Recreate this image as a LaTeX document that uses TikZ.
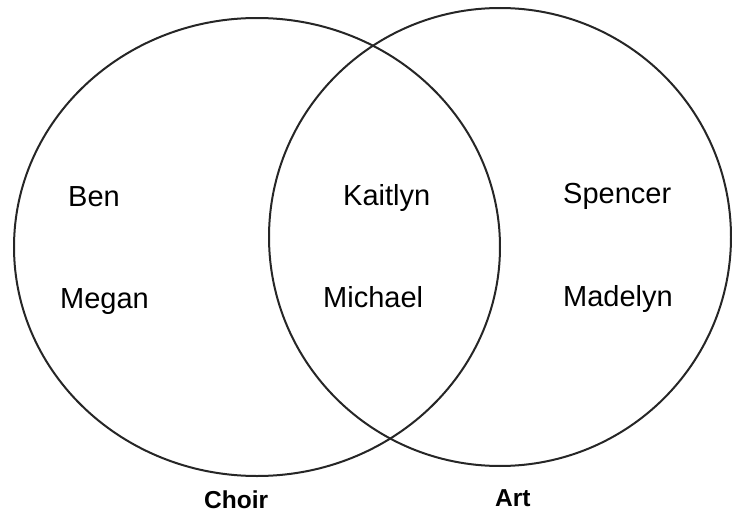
\documentclass[tikz,border=0pt]{standalone}
\usepackage{fontspec}
\setmainfont{Liberation Sans}
\usetikzlibrary{positioning}

\begin{document}
\begin{tikzpicture}[x=1pt, y=-1pt,
    nm/.style={anchor=base west, inner sep=0pt, font=\fontsize{29}{32}\selectfont},
    lbl/.style={anchor=base west, inner sep=0pt, font=\bfseries\fontsize{24.5}{28}\selectfont},
    ring/.style={draw, line width=2pt, black!85}]
  \useasboundingbox (0,0) rectangle (732,514);
  % the two sets
  \draw[ring] (257,247) ellipse [x radius=243pt, y radius=229pt];
  \draw[ring] (500,237) ellipse [x radius=231pt, y radius=229pt];
  % names
  \node[nm] (ben)  at (68,206)  {Ben};
  \node[nm] (meg)  at (60,308)  {Megan};
  \node[nm] (kai)  at (343,205) {Kaitlyn};
  \node[nm] (mic)  at (323,307) {Michael};
  \node[nm] (spe)  at (563,203) {Spencer};
  \node[nm] (mad)  at (563,306) {Madelyn};
  % set labels
  \node[lbl] (choir) at (204,508) {Choir};
  \node[lbl] (art)   at (495,506) {Art};
\end{tikzpicture}
\end{document}
